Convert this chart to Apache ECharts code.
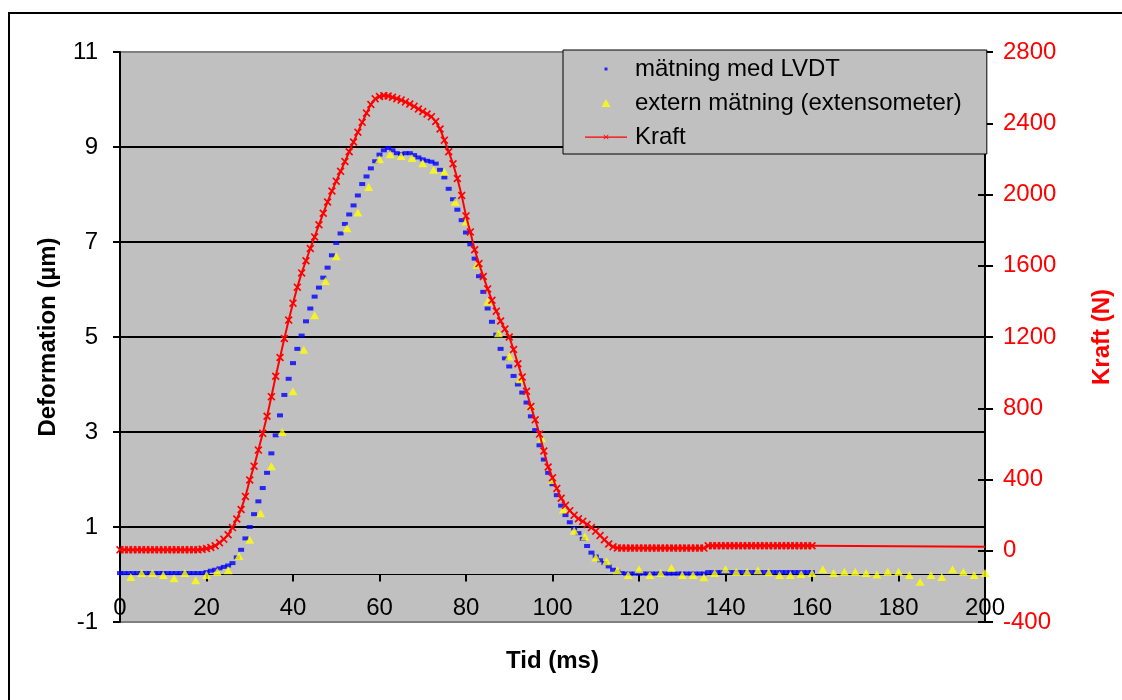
<!DOCTYPE html>
<html>
<head>
<meta charset="utf-8">
<script src="https://cdn.jsdelivr.net/npm/echarts@6/dist/echarts.min.js"></script>
<style>html,body{margin:0;padding:0;background:#fff}#main{width:1122px;height:700px}</style>
</head>
<body>
<div id="main"></div>
<script>
// tid (ms) för LVDT och Kraft
var tid = [
  0,1,2,3,4,5,6,7,8,9,10,11,12,13,14,15,16,17,18,19,
  20,21,22,23,24,25,26,27,28,29,30,31,32,33,34,35,36,37,38,39,
  40,41,42,43,44,45,46,47,48,49,50,51,52,53,54,55,56,57,58,59,
  60,61,62,63,64,65,66,67,68,69,70,71,72,73,74,75,76,77,78,79,
  80,81,82,83,84,85,86,87,88,89,90,91,92,93,94,95,96,97,98,99,
  100,101,102,103,104,105,106,107,108,109,110,111,112,113,114,115,116,117,118,119,
  120,121,122,123,124,125,126,127,128,129,130,131,132,133,134,135,136,137,138,139,
  140,141,142,143,144,145,146,147,148,149,150,151,152,153,154,155,156,157,158,159,
  160
];
// mätning med LVDT (µm)
var lvdt = [
  0.03,0.03,0.03,0.03,0.03,0.03,0.03,0.03,0.03,0.03,0.03,0.03,0.03,0.03,0.03,0.03,0.03,0.03,0.03,0.03,
  0.05,0.08,0.1,0.13,0.16,0.19,0.24,0.36,0.52,0.76,1.0,1.27,1.54,1.82,2.14,2.55,2.93,3.35,3.78,4.12,
  4.45,4.75,5.03,5.33,5.6,5.85,6.04,6.25,6.46,6.72,6.98,7.18,7.38,7.58,7.77,7.98,8.22,8.38,8.55,8.7,
  8.84,8.93,8.98,8.93,8.87,8.85,8.87,8.87,8.83,8.78,8.74,8.71,8.69,8.65,8.52,8.36,8.12,7.9,7.68,7.46,
  7.2,6.95,6.65,6.28,5.95,5.6,5.32,5.05,4.75,4.55,4.38,4.18,4.0,3.83,3.62,3.33,3.04,2.72,2.42,2.14,
  1.9,1.67,1.45,1.25,1.1,0.97,0.87,0.75,0.6,0.46,0.38,0.3,0.24,0.17,0.1,0.06,0.03,0.02,0.02,0.02,
  0.02,0.02,0.02,0.02,0.02,0.02,0.02,0.02,0.02,0.02,0.02,0.02,0.02,0.02,0.02,0.02,0.05,0.05,0.05,0.05,
  0.05,0.05,0.05,0.05,0.05,0.05,0.05,0.05,0.05,0.05,0.05,0.05,0.05,0.05,0.05,0.05,0.05,0.05,0.05,0.05,
  0.05
];
// Kraft (N)
var kraft = [
  5,5,5,5,5,5,5,5,5,5,5,5,5,5,5,5,5,5,5,8,
  12,18,28,45,65,90,130,178,232,305,397,475,565,659,755,865,980,1085,1192,1295,
  1390,1480,1560,1628,1697,1762,1830,1895,1958,2020,2075,2130,2185,2240,2295,2350,2405,2457,2505,2537,
  2550,2555,2553,2546,2538,2530,2520,2508,2495,2480,2466,2452,2437,2410,2368,2305,2240,2172,2090,1995,
  1880,1790,1690,1612,1540,1470,1406,1345,1290,1245,1200,1130,1050,975,895,810,735,655,560,470,
  410,350,295,255,225,200,180,165,148,130,110,85,62,38,22,16,15,15,15,15,
  15,15,15,15,15,15,15,15,15,15,15,15,15,15,15,15,28,28,28,28,
  28,28,28,28,28,28,28,28,28,28,28,28,28,28,28,28,28,28,28,28,
  28
];
var kraftSlut = [200, 22];
// extern mätning (extensometer)
var extTid = [
  2.5,5,7.5,10,12.5,15,17.5,20,22.5,25,27.5,30,32.5,35,37.5,40,42.5,45,47.5,50,
  52.5,55,57.5,60,62.5,65,67.5,70,72.5,75,77.5,80,82.5,85,87.5,90,92.5,95,97.5,100,
  102.5,105,107.5,110,112.5,115,117.5,120,122.5,125,127.5,130,132.5,135,137.5,140,142.5,145,147.5,150,
  152.5,155,157.5,160,162.5,165,167.5,170,172.5,175,177.5,180,182.5,185,187.5,190,192.5,195,197.5,200
];
var extVal = [
  -0.05,0.03,0.03,-0.01,-0.08,0.03,-0.12,-0.01,0.06,0.09,0.39,0.73,1.29,2.28,3.0,3.86,4.73,5.46,6.18,6.7,
  7.29,7.62,8.16,8.74,8.85,8.81,8.77,8.66,8.52,8.48,7.85,7.43,6.52,5.75,5.08,4.59,4.11,3.55,2.87,1.99,
  1.37,0.92,0.8,0.36,0.28,0.09,-0.01,0.11,-0.01,0.03,0.14,-0.01,-0.01,-0.06,0.03,0.11,0.06,0.06,0.09,0.05,
  -0.01,-0.01,0.01,0.03,0.11,0.03,0.06,0.06,0.03,0.0,0.06,0.06,-0.01,-0.15,-0.01,-0.05,0.11,0.06,-0.01,0.03
];

var font = 'Liberation Sans, Arial, sans-serif';
var xMark = 'path://M0,1.5L1.5,0L5,3.5L8.5,0L10,1.5L6.5,5L10,8.5L8.5,10L5,6.5L1.5,10L0,8.5L3.5,5Z';

var chart = echarts.init(document.getElementById('main'));

var lvdtData = tid.map(function (t, i) { return [t, lvdt[i]]; });
var extData = extTid.map(function (t, i) { return [t, extVal[i]]; });
var kraftData = tid.map(function (t, i) { return [t, kraft[i]]; });
kraftData.push({ value: kraftSlut, symbol: 'none' });

function plain(v) { return String(v); }

var option = {
  animation: false,
  textStyle: { fontFamily: font },
  graphic: [{
    type: 'rect',
    shape: { x: 9, y: 13, width: 1300, height: 900 },
    style: { fill: 'none', stroke: '#000', lineWidth: 2 },
    silent: true
  }],
  grid: {
    left: 120, right: 135, top: 52, bottom: 78,
    show: true, backgroundColor: '#C0C0C0', borderWidth: 0
  },
  legend: {
    orient: 'vertical',
    left: 563, top: 50,
    padding: [7, 25, 5, 22],
    backgroundColor: '#C0C0C0',
    borderColor: '#000', borderWidth: 1,
    itemWidth: 42, itemHeight: 14, itemGap: 10,
    textStyle: { fontSize: 24, color: '#000', fontFamily: font, padding: [0, 0, 0, 3] },
    data: [
      { name: 'mätning med LVDT', icon: 'path://M0,0M42,14M19.5,5.5h3v3h-3z' },
      { name: 'extern mätning (extensometer)', icon: 'path://M0,0M42,14M21,3L25.5,11L16.5,11Z' },
      { name: 'Kraft', icon: 'path://M0,0M42,14M0,6.5h42v1.2h-42zM18.5,5L19,4.5L21,6.5L23,4.5L23.5,5L21.5,7L23.5,9L23,9.5L21,7.5L19,9.5L18.5,9L20.5,7Z' }
    ]
  },
  xAxis: [{
    type: 'value', min: 0, max: 200, interval: 20,
    position: 'bottom',
    name: 'Tid (ms)', nameLocation: 'middle', nameGap: 27,
    nameTextStyle: { fontSize: 24, fontWeight: 'bold', color: '#000', fontFamily: font },
    axisLine: { show: false, onZero: false },
    axisTick: { show: false },
    axisLabel: { inside: true, margin: 2, fontSize: 24, color: '#000', fontFamily: font },
    splitLine: { show: false }
  }, {
    type: 'value', min: 0, max: 200, interval: 20,
    position: 'bottom',
    axisLine: { show: true, onZero: true, onZeroAxisIndex: 0, lineStyle: { color: '#000', width: 1 } },
    axisTick: { show: true, length: 7, lineStyle: { color: '#000', width: 2 } },
    axisLabel: { show: false },
    splitLine: { show: false }
  }],
  yAxis: [{
    type: 'value', min: -1, max: 11, interval: 2,
    position: 'left',
    name: 'Deformation (µm)', nameLocation: 'middle', nameGap: 60, nameRotate: 90,
    nameTextStyle: { fontSize: 24, fontWeight: 'bold', color: '#000', fontFamily: font },
    axisLine: { show: true, onZero: false, lineStyle: { color: '#000', width: 2 } },
    axisTick: { show: true, length: 7, lineStyle: { color: '#000', width: 2 } },
    axisLabel: { margin: 22, fontSize: 24, color: '#000', fontFamily: font },
    splitLine: { show: true, lineStyle: { color: ['#808080', '#000', '#000', '#000', '#000', '#000', '#808080'], width: 2 } }
  }, {
    type: 'value', min: -400, max: 2800, interval: 400,
    position: 'right',
    name: 'Kraft (N)', nameLocation: 'middle', nameGap: 105, nameRotate: 90,
    nameTextStyle: { fontSize: 24, fontWeight: 'bold', color: '#FF0000', fontFamily: font },
    axisLine: { show: true, onZero: false, lineStyle: { color: '#000', width: 2 } },
    axisTick: { show: true, length: 8, lineStyle: { color: '#000', width: 2 } },
    axisLabel: { margin: 18, fontSize: 24, color: '#FF0000', fontFamily: font, formatter: plain },
    splitLine: { show: false }
  }, {
    type: 'value', min: -400, max: 2800, interval: 400,
    position: 'right',
    axisLine: { show: false, onZero: false },
    axisTick: { show: true, inside: true, length: 7, lineStyle: { color: '#000', width: 2 } },
    axisLabel: { show: false },
    splitLine: { show: false }
  }],
  series: [{
    name: 'mätning med LVDT',
    type: 'scatter',
    xAxisIndex: 0, yAxisIndex: 0,
    symbol: 'rect', symbolSize: [6, 4],
    itemStyle: { color: '#0000FF' },
    data: lvdtData
  }, {
    name: 'extern mätning (extensometer)',
    type: 'scatter',
    xAxisIndex: 0, yAxisIndex: 0,
    symbol: 'triangle', symbolSize: [9, 8],
    itemStyle: { color: '#FFFF00' },
    data: extData
  }, {
    name: 'Kraft',
    type: 'line',
    xAxisIndex: 0, yAxisIndex: 1,
    symbol: xMark, symbolSize: 8,
    itemStyle: { color: '#FF0000' },
    lineStyle: { color: '#FF0000', width: 2 },
    data: kraftData
  }]
};
chart.setOption(option);
</script>
</body>
</html>
